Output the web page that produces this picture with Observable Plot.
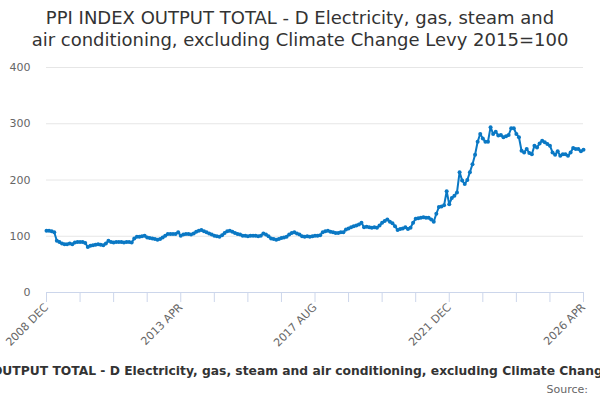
<!DOCTYPE html>
<html>
<head>
<meta charset="utf-8">
<script src="https://cdn.jsdelivr.net/npm/d3@7"></script>
<script src="https://cdn.jsdelivr.net/npm/@observablehq/plot@0.6"></script>
<style>
  html, body { margin: 0; padding: 0; background: #fff; }
  body { width: 600px; height: 400px; position: relative; overflow: hidden; font-family: "DejaVu Sans", sans-serif; }
  #title { position: absolute; top: 7px; left: 0; width: 600px; text-align: center; font-size: 18px; line-height: 22px; color: #333; }
  #chart { position: absolute; top: 52px; left: 0; }
  #legend { position: absolute; top: 364px; left: 320px; transform: translateX(-50%); white-space: nowrap; font-size: 12.3px; font-weight: bold; color: #333; }
  #source { position: absolute; top: 383px; right: 12px; font-size: 11px; color: #666; }
</style>
</head>
<body>
<div id="title">PPI INDEX OUTPUT TOTAL - D Electricity, gas, steam and<br>air conditioning, excluding Climate Change Levy 2015=100</div>
<div id="chart"></div>
<div id="legend">PPI INDEX OUTPUT TOTAL - D Electricity, gas, steam and air conditioning, excluding Climate Change Levy 2015=100</div>
<div id="source">Source:</div>
<script>
const monthNames = ["JAN","FEB","MAR","APR","MAY","JUN","JUL","AUG","SEP","OCT","NOV","DEC"];
const startYear = 2008, startMonth = 11; // 2008 DEC

const v2008 = [110];
const v2009 = [110, 109, 107, 92, 90, 87, 86, 86, 87, 86, 89, 90];
const v2010 = [90, 90, 88, 81, 83, 84, 85, 86, 85, 84, 87, 92];
const v2011 = [90, 89, 90, 90, 90, 89, 90, 90, 89, 96, 99, 99];
const v2012 = [100, 101, 98, 97, 96, 95, 94, 95, 98, 101, 104, 104];
const v2013 = [104, 104, 107, 101, 103, 104, 104, 103, 105, 108, 110, 111];
const v2014 = [109, 107, 105, 103, 101, 100, 99, 102, 106, 109, 110, 108];
const v2015 = [106, 104, 103, 101, 101, 100, 101, 101, 101, 100, 101, 105];
const v2016 = [103, 100, 96, 95, 94, 95, 97, 98, 99, 103, 106, 107];
const v2017 = [105, 103, 100, 99, 100, 99, 100, 101, 101, 102, 107, 109];
const v2018 = [110, 108, 107, 106, 106, 107, 107, 112, 114, 116, 118, 119];
const v2019 = [121, 124, 116, 117, 116, 115, 116, 115, 119, 124, 127, 130];
const v2020 = [126, 123, 118, 111, 113, 114, 116, 113, 115, 124, 131, 132];
const v2021 = [133, 134, 133, 133, 130, 126, 140, 152, 153, 155, 180, 157];
const v2022 = [168, 172, 178, 214, 199, 193, 200, 214, 228, 245, 268, 282];
const v2023 = [274, 268, 268, 294, 282, 286, 279, 280, 276, 278, 280, 292];
const v2024 = [292, 282, 276, 252, 249, 255, 248, 246, 261, 258, 265, 270];
const v2025 = [267, 264, 261, 249, 245, 251, 243, 246, 246, 243, 249, 257];
const v2026 = [255, 255, 251, 254];

const values = [].concat(v2008, v2009, v2010, v2011, v2012, v2013, v2014, v2015, v2016,
  v2017, v2018, v2019, v2020, v2021, v2022, v2023, v2024, v2025, v2026);

const months = values.map((_, i) => {
  const m = startMonth + i;
  return `${startYear + Math.floor(m / 12)} ${monthNames[m % 12]}`;
});

const labelTicks = ["2008 DEC", "2013 APR", "2017 AUG", "2021 DEC", "2026 APR"];
const minorTicks = months.filter((_, i) => i % 13 === 0);
const yTicks = [0, 100, 200, 300, 400];

const data = months.map((m, i) => ({month: m, value: values[i]}));

const lineColor = "#0a78c4";

const chart = Plot.plot({
  width: 600,
  height: 305,
  marginTop: 15,
  marginLeft: 46,
  marginRight: 17,
  marginBottom: 65,
  style: {fontFamily: "DejaVu Sans, sans-serif", fontSize: "11px", color: "#666", background: "transparent"},
  x: {type: "point", domain: months, padding: 0, axis: null},
  y: {domain: [0, 400], axis: null},
  marks: [
    Plot.gridY(yTicks, {stroke: "#e6e6e6", strokeOpacity: 1}),
    Plot.axisY(yTicks, {tickSize: 0, tickPadding: 16, fill: "#666", fontSize: 11, label: null}),
    Plot.ruleY([0], {stroke: "#ccd6eb", strokeOpacity: 1}),
    Plot.axisX(minorTicks, {tickSize: 10, stroke: "#ccd6eb", strokeOpacity: 1, tickFormat: () => "", label: null}),
    Plot.axisX(labelTicks, {tickSize: 0, tickPadding: 13, tickRotate: -45, fill: "#666", fontSize: 11, label: null}),
    Plot.line(data, {x: "month", y: "value", stroke: lineColor, strokeWidth: 2}),
    Plot.dot(data, {x: "month", y: "value", fill: lineColor, r: 2})
  ]
});
document.getElementById("chart").appendChild(chart);
</script>
</body>
</html>
